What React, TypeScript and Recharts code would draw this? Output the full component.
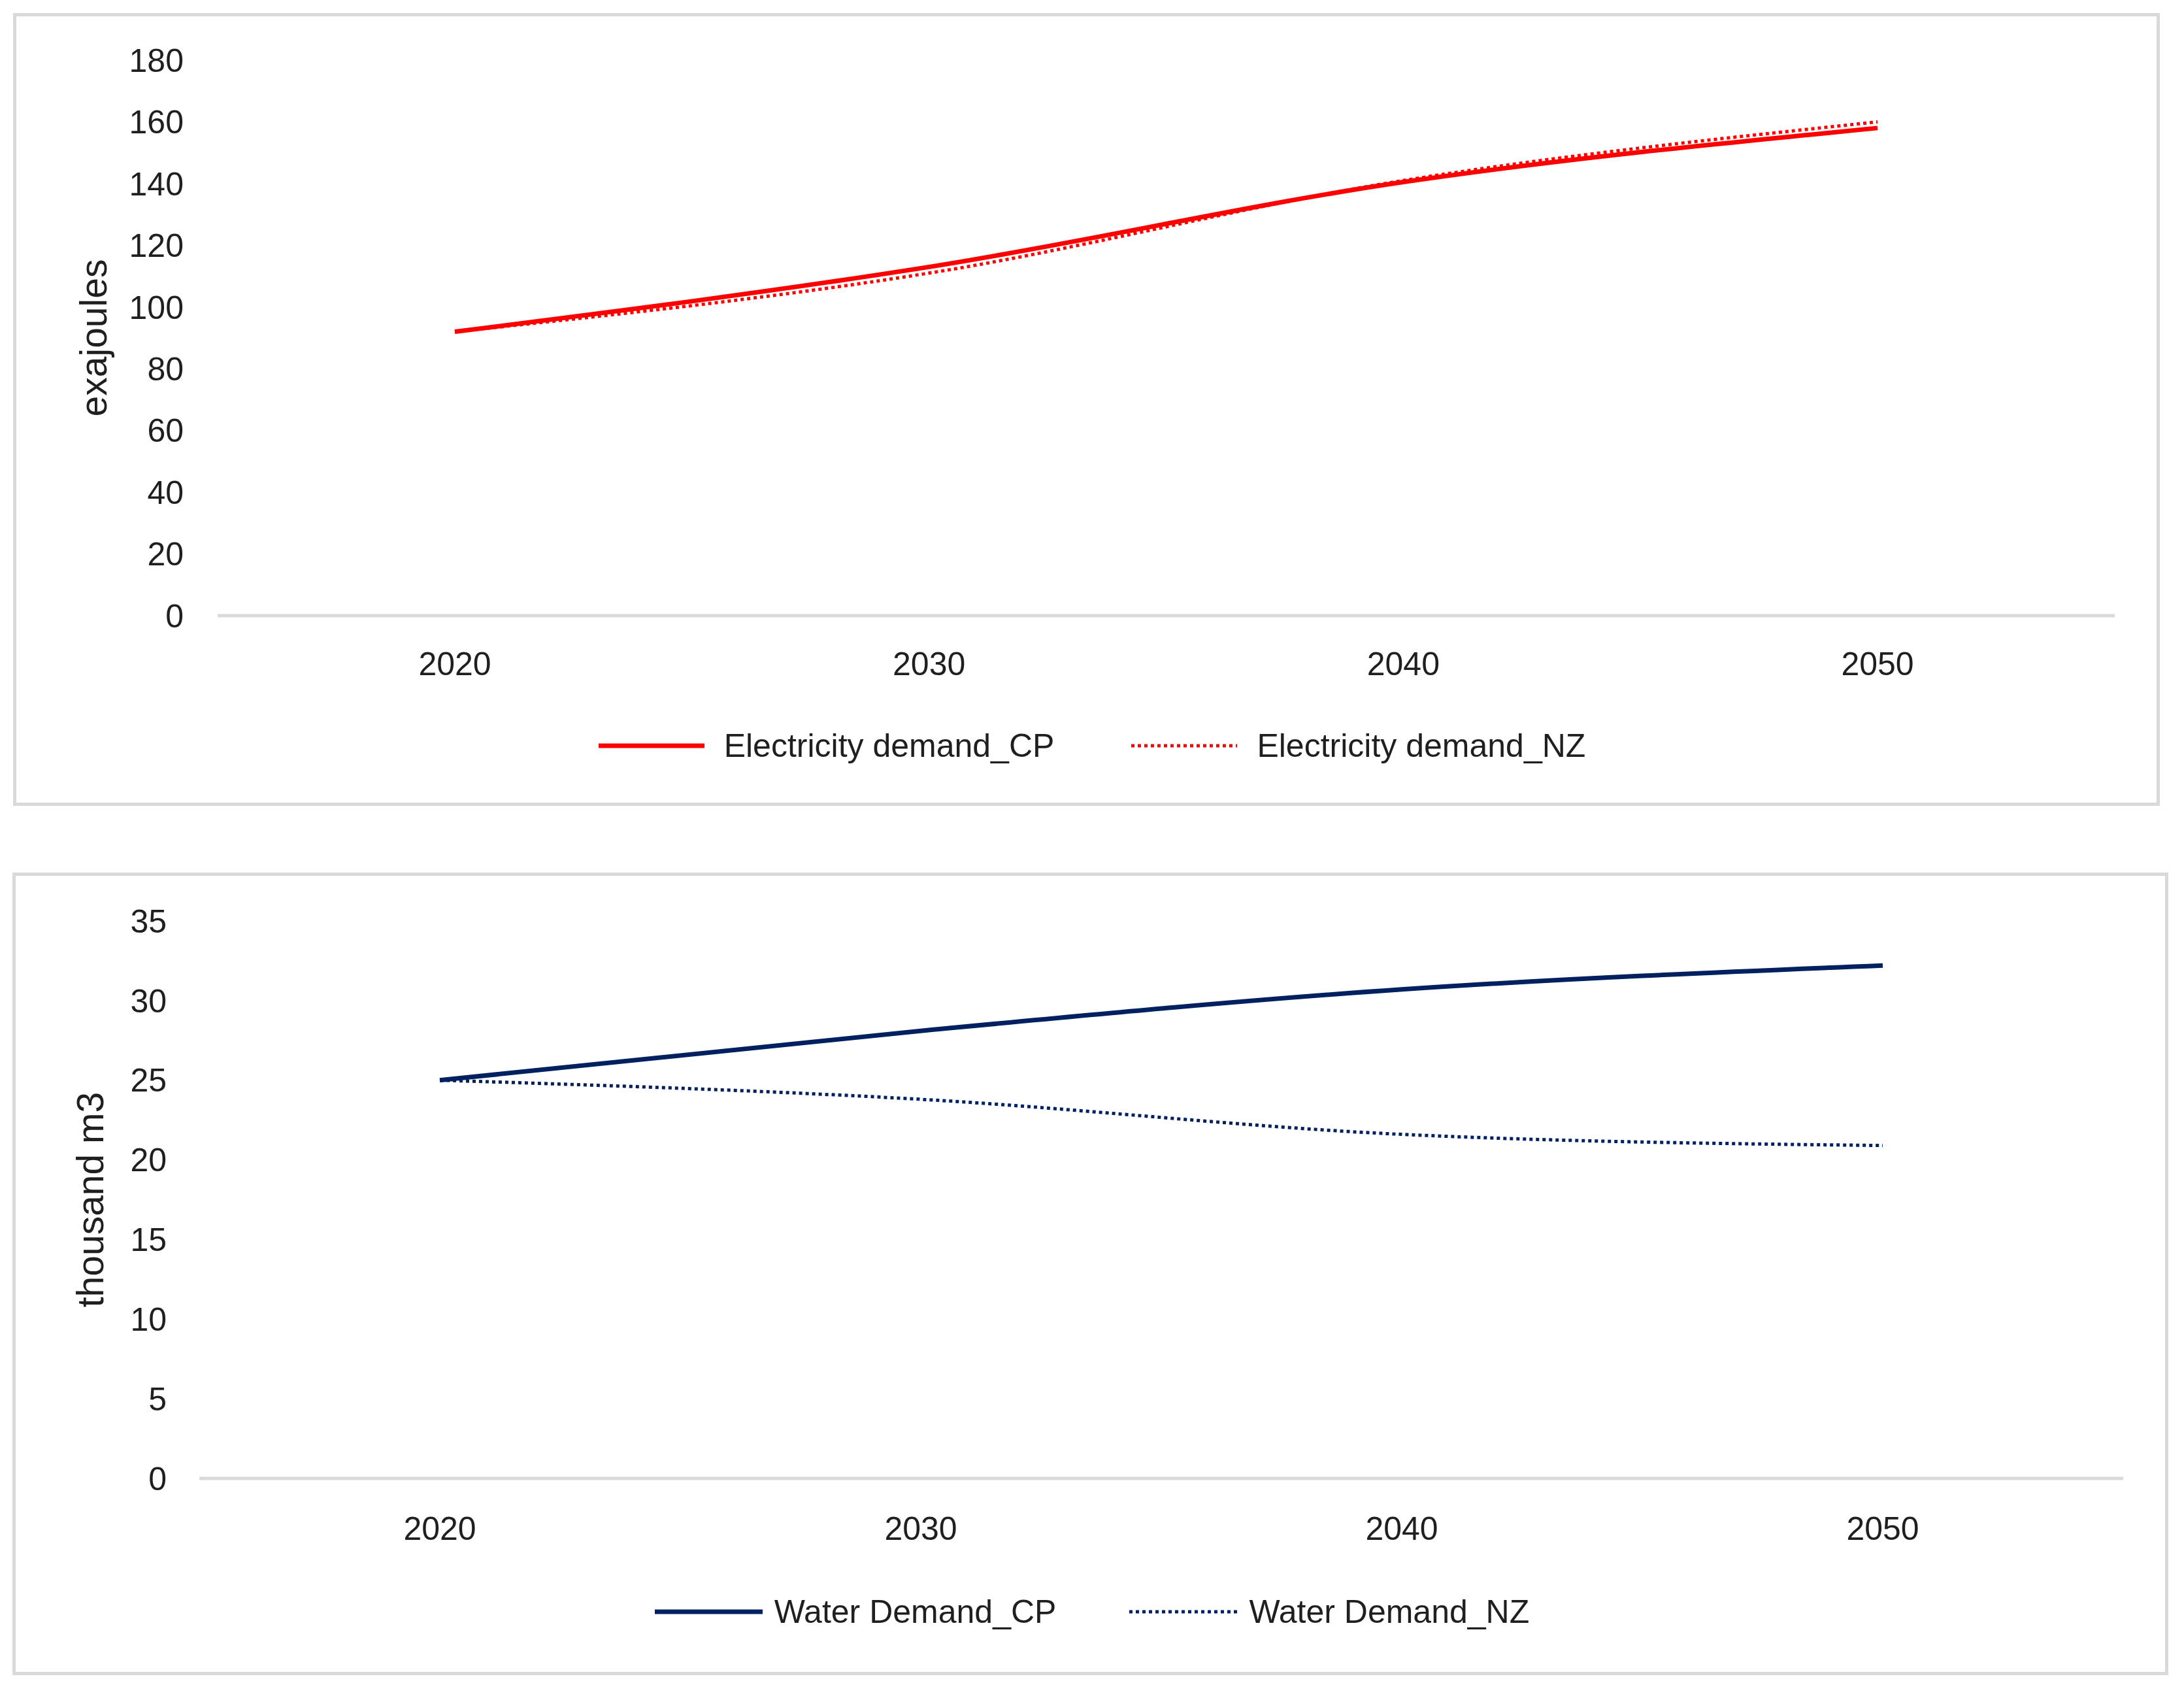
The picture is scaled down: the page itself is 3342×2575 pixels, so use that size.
import { LineChart, Line, XAxis, YAxis, Legend } from "recharts";

const years = ["2020", "2030", "2040", "2050"];

const electricityCP = [92, 113, 140.5, 158];
const electricityNZ = [92, 111, 141, 160];
const electricityTicks = [0, 20, 40, 60, 80, 100, 120, 140, 160, 180];

const waterCP = [25, 28.1, 30.7, 32.2];
const waterNZ = [25, 23.8, 21.6, 20.9];
const waterTicks = [0, 5, 10, 15, 20, 25, 30, 35];

const electricityData = years.map((year, i) => ({
  year,
  cp: electricityCP[i],
  nz: electricityNZ[i],
}));

const waterData = years.map((year, i) => ({
  year,
  cp: waterCP[i],
  nz: waterNZ[i],
}));

const FONT = "'Liberation Sans', Arial, sans-serif";
const TEXT = "#1f1f1f";
const GRID = "#d9d9d9";
const RED = "#ff0000";
const NAVY = "#002060";

type LegendItem = { label: string; color: string; width: number; dash?: string };

function LegendRow({
  items,
  iconWidth,
  textGap,
  itemGap,
}: {
  items: LegendItem[];
  iconWidth: number;
  textGap: number;
  itemGap: number;
}) {
  return (
    <div style={{ display: "flex", justifyContent: "center", alignItems: "center", gap: itemGap }}>
      {items.map((item) => (
        <div key={item.label} style={{ display: "flex", alignItems: "center" }}>
          <svg width={iconWidth} height={20}>
            <line
              x1={0}
              y1={10}
              x2={iconWidth}
              y2={10}
              stroke={item.color}
              strokeWidth={item.width}
              strokeDasharray={item.dash}
            />
          </svg>
          <span style={{ marginLeft: textGap, fontSize: 50, fontFamily: FONT, color: TEXT, lineHeight: "60px" }}>
            {item.label}
          </span>
        </div>
      ))}
    </div>
  );
}

function Frame({ left, top, width, height }: { left: number; top: number; width: number; height: number }) {
  return (
    <div
      style={{
        position: "absolute",
        left,
        top,
        width,
        height,
        border: `5px solid ${GRID}`,
        boxSizing: "border-box",
      }}
    />
  );
}

const tickStyle = { fontSize: 50, fill: TEXT, fontFamily: FONT };

export default function App() {
  return (
    <div style={{ position: "absolute", left: 0, top: 0, width: 3342, height: 2575, background: "#fff" }}>
      <Frame left={20} top={20} width={3285} height={1213} />
      <Frame left={19} top={1335} width={3299} height={1228} />

      {/* electricity demand */}
      <div style={{ position: "absolute", left: 0, top: 0 }}>
        <LineChart
          width={3342}
          height={1260}
          data={electricityData}
          margin={{ top: 92, right: 106, bottom: 218, left: 0 }}
        >
          <XAxis
            dataKey="year"
            interval={0}
            tickLine={false}
            tickSize={0}
            tickMargin={55}
            height={100}
            padding={{ left: 363, right: 363 }}
            axisLine={{ stroke: GRID, strokeWidth: 5 }}
            tick={tickStyle}
          />
          <YAxis
            domain={[0, 180]}
            ticks={electricityTicks}
            interval={0}
            axisLine={false}
            tickLine={false}
            tickSize={0}
            tickMargin={52}
            width={333}
            tick={tickStyle}
            label={{
              value: "exajoules",
              angle: -90,
              position: "insideLeft",
              offset: 143,
              style: { textAnchor: "middle", fontSize: 57, fill: TEXT, fontFamily: FONT },
            }}
          />
          <Line
            dataKey="cp"
            name="Electricity demand_CP"
            type="monotone"
            stroke={RED}
            strokeWidth={7}
            dot={false}
            activeDot={false}
            isAnimationActive={false}
          />
          <Line
            dataKey="nz"
            name="Electricity demand_NZ"
            type="monotone"
            stroke={RED}
            strokeWidth={5}
            strokeDasharray="5 5"
            dot={false}
            activeDot={false}
            isAnimationActive={false}
          />
          <Legend
            layout="horizontal"
            verticalAlign="middle"
            align="center"
            wrapperStyle={{ top: 1111, left: 0, width: 3342 }}
            content={() => (
              <LegendRow
                iconWidth={162}
                textGap={30}
                itemGap={118}
                items={[
                  { label: "Electricity demand_CP", color: RED, width: 7 },
                  { label: "Electricity demand_NZ", color: RED, width: 5, dash: "5 5" },
                ]}
              />
            )}
          />
        </LineChart>
      </div>

      {/* water demand */}
      <div style={{ position: "absolute", left: 0, top: 1300 }}>
        <LineChart
          width={3342}
          height={1275}
          data={waterData}
          margin={{ top: 109, right: 93, bottom: 213, left: 0 }}
        >
          <XAxis
            dataKey="year"
            interval={0}
            tickLine={false}
            tickSize={0}
            tickMargin={58}
            height={100}
            padding={{ left: 368, right: 368 }}
            axisLine={{ stroke: GRID, strokeWidth: 5 }}
            tick={tickStyle}
          />
          <YAxis
            domain={[0, 35]}
            ticks={waterTicks}
            interval={0}
            axisLine={false}
            tickLine={false}
            tickSize={0}
            tickMargin={50}
            width={305}
            tick={tickStyle}
            label={{
              value: "thousand m3",
              angle: -90,
              position: "insideLeft",
              offset: 138,
              style: { textAnchor: "middle", fontSize: 57, fill: TEXT, fontFamily: FONT },
            }}
          />
          <Line
            dataKey="cp"
            name="Water Demand_CP"
            type="monotone"
            stroke={NAVY}
            strokeWidth={7}
            dot={false}
            activeDot={false}
            isAnimationActive={false}
          />
          <Line
            dataKey="nz"
            name="Water Demand_NZ"
            type="monotone"
            stroke={NAVY}
            strokeWidth={5}
            strokeDasharray="5 5"
            dot={false}
            activeDot={false}
            isAnimationActive={false}
          />
          <Legend
            layout="horizontal"
            verticalAlign="middle"
            align="center"
            wrapperStyle={{ top: 1136, left: 0, width: 3342 }}
            content={() => (
              <LegendRow
                iconWidth={165}
                textGap={18}
                itemGap={112}
                items={[
                  { label: "Water Demand_CP", color: NAVY, width: 7 },
                  { label: "Water Demand_NZ", color: NAVY, width: 5, dash: "5 5" },
                ]}
              />
            )}
          />
        </LineChart>
      </div>
    </div>
  );
}
